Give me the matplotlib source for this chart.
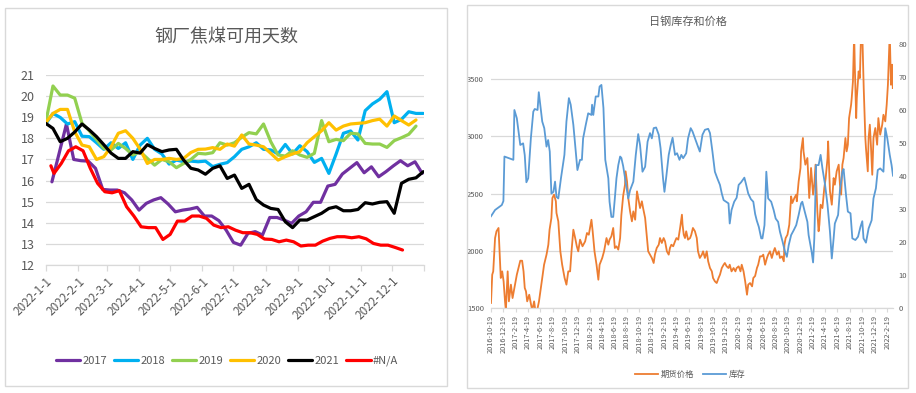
import matplotlib
matplotlib.use("Agg")
import matplotlib.pyplot as plt
import matplotlib.dates as mdates
from matplotlib.patches import Rectangle
from matplotlib.ticker import FixedLocator, FixedFormatter
import pandas as pd

plt.rcParams["font.family"] = ["Noto Sans CJK SC", "DejaVu Sans"]

TEXT = "#595959"
GRID = "#D9D9D9"
W, H = 916, 393

# ---- left chart: 钢厂焦煤可用天数 (weekly, plotted on a 2022 calendar) ----
years = ["2017", "2018", "2019", "2020", "2021", "#N/A"]
year_colors = ["#7030A0", "#00B0F0", "#92D050", "#FFC000", "#000000", "#FF0000"]

days_2017 = [15.94, 17.3, 18.68, 17.0, 16.94, 16.92, 16.58, 15.58, 15.55, 15.55, 15.42, 15.08,
             14.6, 14.92, 15.08, 15.19, 14.89, 14.52, 14.6, 14.65, 14.73, 14.32, 14.32, 14.1,
             13.65, 13.07, 12.94, 13.5, 13.58, 13.42, 14.25, 14.25, 14.13, 13.97, 14.32, 14.52,
             14.97, 14.97, 15.74, 15.82, 16.31, 16.58, 16.85, 16.37, 16.65, 16.18, 16.42, 16.69,
             16.94, 16.7, 16.89, 16.34]
days_2018 = [18.68, 19.18, 18.99, 18.68, 18.79, 18.1, 18.08, 17.79, 17.48, 17.79, 17.52, 17.79,
             17.0, 17.68, 18.0, 17.48, 17.26, 16.78, 16.97, 16.89, 16.92, 16.89, 16.92, 16.66,
             16.77, 16.85, 17.13, 17.48, 17.6, 17.79, 17.48, 17.45, 17.26, 17.71, 17.26, 17.65,
             17.37, 16.86, 17.05, 16.34, 17.26, 18.24, 18.35, 17.92, 19.31, 19.63, 19.85, 20.21,
             18.74, 18.9, 19.26, 19.18, 19.18]
days_2019 = [18.74, 20.48, 20.05, 20.05, 19.9, 18.71, 18.36, 17.95, 17.52, 17.45, 17.76, 17.52,
             17.21, 17.37, 17.05, 16.73, 17.0, 16.89, 16.61, 16.81, 17.0, 17.29, 17.26, 17.32,
             17.79, 17.68, 17.79, 18.05, 18.27, 18.21, 18.68, 17.84, 17.21, 17.16, 17.41, 17.21,
             17.1, 17.29, 18.84, 17.84, 17.95, 17.89, 18.24, 18.21, 17.76, 17.73, 17.73, 17.57,
             17.89, 18.03, 18.19, 18.58]
days_2020 = [18.74, 19.18, 19.37, 19.37, 18.31, 17.68, 17.6, 17.0, 17.13, 17.6, 18.24, 18.36,
             18.0, 17.49, 16.81, 17.0, 17.0, 17.05, 17.0, 17.05, 17.33, 17.48, 17.49, 17.56,
             17.48, 17.73, 17.63, 18.16, 17.73, 17.68, 17.6, 17.29, 16.97, 17.13, 17.26, 17.37,
             17.79, 18.08, 18.36, 18.74, 18.39, 18.58, 18.68, 18.71, 18.74, 18.84, 18.91, 18.58,
             19.06, 18.84, 18.63, 18.87]
days_2021 = [18.71, 18.47, 17.84, 18.0, 18.3, 18.68, 18.4, 18.08, 17.7, 17.3, 17.05, 17.05,
             17.37, 17.3, 17.7, 17.52, 17.37, 17.45, 17.48, 16.97, 16.58, 16.5, 16.3, 16.58,
             16.7, 16.1, 16.26, 15.63, 15.82, 15.1, 14.84, 14.68, 14.63, 14.05, 13.77, 14.13,
             14.13, 14.29, 14.45, 14.68, 14.76, 14.57, 14.57, 14.63, 14.95, 14.89, 14.97, 15.0,
             14.45, 15.87, 16.06, 16.13, 16.42]
days_na = [16.7, 16.34, 16.81, 17.41, 17.6, 17.41, 16.58, 15.87, 15.47, 15.42, 15.52, 14.76,
           14.32, 13.81, 13.77, 13.77, 13.21, 13.45, 14.08, 14.08, 14.32, 14.32, 14.21, 13.89,
           13.77, 13.81, 13.65, 13.53, 13.53, 13.45, 13.23, 13.21, 13.1, 13.18, 13.1, 12.9,
           12.94, 12.94, 13.13, 13.26, 13.34, 13.34, 13.29, 13.34, 13.24, 13.02, 12.94, 12.94,
           12.83, 12.71]
first_week = ["2022-01-07", "2022-01-01", "2022-01-01", "2022-01-01", "2022-01-01", "2022-01-09"]
na_first_day = "2022-01-06"

# ---- right chart: 日钢库存和价格 ----
price_dates = [
    "2016-10-19", "2016-10-25", "2016-10-30", "2016-11-08", "2016-11-15", "2016-11-25", "2016-11-30",
    "2016-12-06", "2016-12-13", "2016-12-20", "2016-12-27", "2016-12-31",
    "2017-01-09", "2017-01-15", "2017-01-25", "2017-02-02", "2017-02-11", "2017-02-23", "2017-03-03",
    "2017-03-12", "2017-03-21", "2017-03-28", "2017-04-03", "2017-04-09", "2017-04-15", "2017-04-25",
    "2017-05-04", "2017-05-10", "2017-05-19", "2017-05-25", "2017-06-03", "2017-06-12", "2017-06-22",
    "2017-06-28", "2017-07-07", "2017-07-19", "2017-07-28", "2017-08-03", "2017-08-12", "2017-08-17",
    "2017-08-25", "2017-09-03", "2017-09-06", "2017-09-15", "2017-09-25", "2017-10-04", "2017-10-16",
    "2017-10-25", "2017-11-03", "2017-11-12", "2017-11-19", "2017-11-28", "2017-12-07", "2017-12-15",
    "2017-12-22", "2017-12-31",
    "2018-01-12", "2018-01-25", "2018-02-03", "2018-02-12", "2018-02-25", "2018-03-03", "2018-03-12",
    "2018-03-22", "2018-03-31", "2018-04-06", "2018-04-19", "2018-04-28", "2018-05-10", "2018-05-19",
    "2018-05-25", "2018-06-03", "2018-06-12", "2018-06-20", "2018-06-28", "2018-07-07", "2018-07-16",
    "2018-07-22", "2018-07-31", "2018-08-09", "2018-08-12", "2018-08-19", "2018-08-25", "2018-09-03",
    "2018-09-12", "2018-09-19", "2018-09-28", "2018-10-07", "2018-10-13", "2018-10-22", "2018-10-31",
    "2018-11-06", "2018-11-16", "2018-11-25", "2018-12-01", "2018-12-10", "2018-12-19", "2018-12-28",
    "2019-01-03", "2019-01-12", "2019-01-22", "2019-01-28", "2019-02-06", "2019-02-15", "2019-02-22",
    "2019-03-03", "2019-03-12", "2019-03-18", "2019-03-25", "2019-04-03", "2019-04-12", "2019-04-19",
    "2019-04-28", "2019-05-07", "2019-05-16", "2019-05-19", "2019-05-25", "2019-05-31", "2019-06-06",
    "2019-06-15", "2019-06-25", "2019-07-01", "2019-07-09", "2019-07-19", "2019-07-28", "2019-08-03",
    "2019-08-12", "2019-08-22", "2019-08-28", "2019-09-06", "2019-09-15", "2019-09-22", "2019-10-01",
    "2019-10-10", "2019-10-16", "2019-10-25", "2019-11-03", "2019-11-12", "2019-11-19", "2019-11-28",
    "2019-12-07", "2019-12-13", "2019-12-22", "2019-12-31",
    "2020-01-06", "2020-01-15", "2020-01-25", "2020-02-03", "2020-02-09", "2020-02-19", "2020-02-28",
    "2020-03-05", "2020-03-14", "2020-03-22", "2020-03-31", "2020-04-06", "2020-04-15", "2020-04-25",
    "2020-05-01", "2020-05-10", "2020-05-19", "2020-05-25", "2020-06-03", "2020-06-12", "2020-06-19",
    "2020-06-28", "2020-07-07", "2020-07-13", "2020-07-22", "2020-07-31", "2020-08-09", "2020-08-15",
    "2020-08-25", "2020-09-03", "2020-09-09", "2020-09-19", "2020-09-28", "2020-10-01", "2020-10-07",
    "2020-10-16", "2020-10-25", "2020-11-03", "2020-11-09", "2020-11-19", "2020-11-28", "2020-12-01",
    "2020-12-10", "2020-12-19", "2020-12-22", "2020-12-31",
    "2021-01-03", "2021-01-12", "2021-01-22", "2021-01-25", "2021-01-31", "2021-02-09", "2021-02-19",
    "2021-02-25", "2021-03-03", "2021-03-12", "2021-03-18", "2021-03-22", "2021-03-28", "2021-04-06",
    "2021-04-15", "2021-04-22", "2021-05-01", "2021-05-04", "2021-05-13", "2021-05-22", "2021-05-31",
    "2021-06-06", "2021-06-15", "2021-06-25", "2021-07-01", "2021-07-07", "2021-07-13", "2021-07-19",
    "2021-07-28", "2021-08-03", "2021-08-09", "2021-08-15", "2021-08-25", "2021-08-28", "2021-09-03",
    "2021-09-09", "2021-09-12", "2021-09-19", "2021-09-22", "2021-10-01", "2021-10-07", "2021-10-13",
    "2021-10-19", "2021-10-26", "2021-11-03", "2021-11-06", "2021-11-15", "2021-11-19", "2021-11-25",
    "2021-12-01", "2021-12-07", "2021-12-13", "2021-12-22", "2021-12-31",
    "2022-01-06", "2022-01-15", "2022-01-25", "2022-01-31", "2022-02-09", "2022-02-16", "2022-02-22",
    "2022-02-28", "2022-03-03", "2022-03-09", "2022-03-15", "2022-03-18",
]
price_values = [
    1544, 1791, 1820, 2111, 2170, 2199, 1995, 1762, 1820, 1733, 1558, 1480,
    1820, 1558, 1704, 1587, 1675, 1791, 1849, 1913, 1913, 1820, 1675, 1646, 1558, 1616, 1529, 1480,
    1558, 1480, 1480, 1558, 1689, 1762, 1878, 1966, 2053, 2184, 2286, 2461, 2490, 2432, 2330, 2257,
    1995, 1878, 1762, 1704, 1820, 1820, 1995, 2184, 2111, 2039, 1995, 2097,
    2039, 2082, 2155, 2140, 2271, 2170, 1995, 1878, 1747, 1878, 1937, 1995, 2111, 2053, 2097, 2126,
    2199, 2024, 2039, 2010, 2111, 2310, 2480, 2577, 2694, 2606, 2461, 2344, 2257, 2344, 2271, 2519,
    2461, 2373, 2432, 2373, 2286, 2111, 1995, 1966, 1937, 1893,
    1966, 2024, 2053, 2111, 2068, 2111, 2082, 1995, 1966, 2024, 2053, 2039, 2082, 2111, 2097, 2199,
    2315, 2228, 2140, 2111, 2170, 2097, 2111, 2140, 2199, 2170, 2111, 1995, 1937, 1966, 1995, 1937,
    1995, 1908, 1849, 1820, 1762, 1733, 1718, 1762, 1791, 1849, 1878, 1893, 1864, 1849,
    1878, 1820, 1849, 1820, 1849, 1864, 1820, 1878, 1820, 1733, 1616, 1704, 1718, 1689, 1762, 1780,
    1850, 1878, 1951, 1951, 1966, 1878, 1937, 1966, 1995, 1937, 1995, 2024, 1966, 1995, 1937, 1951,
    1908, 2053, 2111, 2140, 2228, 2475, 2417, 2461, 2490, 2432, 2606, 2723, 2868, 2985,
    2868, 2752, 2810, 2694, 2461, 2723, 2490, 2577, 2752, 2344, 2170, 2228, 2402, 2373, 2548, 2635,
    2810, 2955, 2519, 2402, 2635, 2577, 2694, 2752, 2577, 2490, 2752, 2810, 2985, 2868, 2926, 3159,
    3276, 3334, 3479, 3900, 3625, 3159, 3334, 3567, 3508, 3900, 3900, 3421, 2985, 2897, 2694, 2985,
    3101, 2897, 2664, 2985, 3072, 2926,
    3159, 3014, 3101, 3188, 3130, 3276, 3450, 3741, 3900, 3450, 3625, 3421,
]

stock_dates = [
    "2016-10-19", "2016-11-08", "2016-12-11", "2016-12-19", "2016-12-24",
    "2017-02-06", "2017-02-11", "2017-02-23", "2017-03-12", "2017-03-26", "2017-04-03", "2017-04-11",
    "2017-04-20", "2017-05-03", "2017-05-15", "2017-05-22", "2017-06-05", "2017-06-11", "2017-06-28",
    "2017-07-08", "2017-07-19", "2017-07-27", "2017-08-04", "2017-08-12", "2017-08-22", "2017-08-30",
    "2017-09-06", "2017-09-15", "2017-09-28", "2017-10-15", "2017-10-25", "2017-11-06", "2017-11-15",
    "2017-11-28", "2017-12-10", "2017-12-18", "2017-12-31",
    "2018-01-09", "2018-01-15", "2018-01-28", "2018-02-09", "2018-02-25", "2018-02-28", "2018-03-06",
    "2018-03-18", "2018-03-31", "2018-04-06", "2018-04-15", "2018-04-25", "2018-05-04", "2018-05-19",
    "2018-05-25", "2018-06-03", "2018-06-12", "2018-06-20", "2018-06-28", "2018-07-07", "2018-07-16",
    "2018-07-22", "2018-07-31", "2018-08-12", "2018-08-25", "2018-09-03", "2018-09-19", "2018-10-01",
    "2018-10-13", "2018-10-22", "2018-11-03", "2018-11-16", "2018-11-28", "2018-12-10", "2018-12-19",
    "2018-12-28",
    "2019-01-09", "2019-01-22", "2019-01-31", "2019-02-12", "2019-02-19", "2019-02-28", "2019-03-12",
    "2019-03-22", "2019-03-31", "2019-04-12", "2019-04-22", "2019-05-04", "2019-05-13", "2019-05-22",
    "2019-06-06", "2019-06-15", "2019-06-28", "2019-07-07", "2019-07-19", "2019-07-31", "2019-08-12",
    "2019-08-25", "2019-09-06", "2019-09-22", "2019-10-01", "2019-10-13", "2019-10-25", "2019-11-06",
    "2019-11-19", "2019-11-28", "2019-12-07", "2019-12-19", "2019-12-31",
    "2020-01-06", "2020-01-15", "2020-01-28", "2020-02-09", "2020-02-19", "2020-03-02", "2020-03-18",
    "2020-03-25", "2020-04-06", "2020-04-19", "2020-05-01", "2020-05-10", "2020-05-18", "2020-05-28",
    "2020-06-09", "2020-06-15", "2020-06-25", "2020-07-04", "2020-07-13", "2020-07-28", "2020-08-09",
    "2020-08-19", "2020-08-31", "2020-09-09", "2020-09-22", "2020-10-04", "2020-10-13", "2020-10-22",
    "2020-11-03", "2020-11-16", "2020-11-28", "2020-12-10", "2020-12-22", "2020-12-28",
    "2021-01-09", "2021-01-22", "2021-01-28", "2021-02-12", "2021-02-19", "2021-02-25", "2021-03-06",
    "2021-03-18", "2021-03-28", "2021-04-06", "2021-04-19", "2021-05-01", "2021-05-13", "2021-05-22",
    "2021-05-31", "2021-06-06", "2021-06-22", "2021-07-01", "2021-07-13", "2021-07-19", "2021-07-31",
    "2021-08-09", "2021-08-22", "2021-08-31", "2021-09-15", "2021-09-28", "2021-10-10", "2021-10-19",
    "2021-10-25", "2021-11-06", "2021-11-19", "2021-12-04", "2021-12-13", "2021-12-25",
    "2022-01-03", "2022-01-15", "2022-01-31", "2022-02-09", "2022-02-19", "2022-03-03", "2022-03-12",
    "2022-03-19",
]
stock_values = [
    27.8, 29.7, 31.2, 32.4, 45.9,
    44.9, 60.0, 57.5, 49.4, 49.9, 46.3, 38.1, 39.3, 51.4, 59.5, 60.3, 60.0, 65.4, 56.5, 54.5, 48.9,
    50.9, 47.4, 34.7, 35.2, 38.3, 33.7, 33.2, 39.3, 46.4, 56.5, 63.6, 61.6, 55.5, 47.4, 41.8, 44.9,
    44.9, 51.4, 55.5, 59.0, 58.5, 61.6, 58.5, 64.1, 64.1, 67.1, 67.6, 60.6, 44.9, 39.3, 32.2, 27.6,
    27.6, 33.2, 39.3, 43.3, 45.9, 45.5, 43.0, 38.3, 33.2, 35.7, 38.3, 46.4, 52.7, 49.4, 41.3, 42.8,
    50.4, 53.0, 51.4, 54.5,
    54.7, 52.5, 48.4, 39.3, 35.2, 39.8, 46.4, 49.4, 51.6, 46.4, 46.9, 44.9, 46.4, 45.4, 46.9, 51.4,
    54.5, 53.5, 51.4, 49.4, 47.4, 52.5, 54.0, 54.3, 53.0, 47.4, 41.3, 39.3, 37.3, 34.7, 32.7, 32.2,
    31.7,
    25.6, 29.7, 32.2, 33.4, 37.3, 38.1, 39.5, 37.8, 34.7, 33.0, 32.2, 28.5, 26.5, 24.6, 21.1, 21.1,
    25.1, 41.3, 33.2, 32.2, 29.7, 27.1, 26.1, 23.1, 20.1, 17.0, 15.5, 19.0, 22.1, 23.6, 25.1, 28.2,
    31.7, 32.2,
    29.2, 26.1, 22.1, 17.0, 13.8, 21.1, 43.3, 43.3, 46.4, 42.3, 37.3, 31.2, 23.1, 15.0, 21.1, 25.6,
    28.2, 35.7, 41.3, 42.1, 34.2, 29.2, 28.7, 21.1, 20.6, 21.6, 24.6, 26.3, 21.1, 19.8, 24.1, 26.6,
    33.2, 36.3,
    41.8, 42.3, 41.3, 54.5, 51.4, 46.4, 43.3, 40.1,
]
price_label = "期货价格"
stock_label = "库存"


def fig_box(x0, y0, x1, y1):
    return [x0 / W, 1 - y1 / H, (x1 - x0) / W, (y1 - y0) / H]


fig = plt.figure(figsize=(W / 100, H / 100), dpi=100, facecolor="white")

for x0, y0, x1, y1 in [(5, 8, 447, 386), (467, 5, 908, 388)]:
    fig.patches.append(Rectangle((x0 / W, 1 - y1 / H), (x1 - x0) / W, (y1 - y0) / H,
                                 transform=fig.transFigure, fill=False,
                                 edgecolor=GRID, linewidth=1.0))

# ---------------- left chart ----------------
ax = fig.add_axes(fig_box(45.7, 75, 424.3, 265))
series = [days_2017, days_2018, days_2019, days_2020, days_2021, days_na]
handles = []
for name, color, start, vals in zip(years, year_colors, first_week, series):
    dates = pd.date_range(start, periods=len(vals), freq="7D")
    if name == "#N/A":
        dates = pd.DatetimeIndex([na_first_day]).append(
            pd.date_range(start, periods=len(vals) - 1, freq="7D"))
    line, = ax.plot(dates, vals, color=color, linewidth=2.3,
                    solid_joinstyle="round", solid_capstyle="round", label=name)
    handles.append(line)

ax.set_xlim(pd.Timestamp("2022-01-01"), pd.Timestamp("2023-01-01"))
ax.set_ylim(12, 21)
ax.set_yticks(range(12, 22))
ax.grid(axis="y", color=GRID, linewidth=0.9)
ax.set_axisbelow(True)
for side in ["top", "left", "right"]:
    ax.spines[side].set_visible(False)
ax.spines["bottom"].set_color(GRID)
ax.spines["bottom"].set_linewidth(0.9)
month_ticks = pd.date_range("2022-01-01", "2023-01-01", freq="MS")
month_labels = [f"{d.year}-{d.month}-{d.day}" for d in month_ticks[:-1]] + [""]
ax.xaxis.set_major_locator(FixedLocator(mdates.date2num(month_ticks)))
ax.xaxis.set_major_formatter(FixedFormatter(month_labels))
ax.tick_params(axis="x", direction="out", length=4, width=0.9, color=GRID,
               labelcolor=TEXT, labelsize=8.5, pad=3)
ax.tick_params(axis="y", length=0, labelcolor=TEXT, labelsize=9, pad=8)
for lab in ax.get_xticklabels():
    lab.set_rotation(45)
    lab.set_ha("right")
    lab.set_rotation_mode("anchor")

fig.text(226 / W, 1 - 37 / H, "钢厂焦煤可用天数", ha="center", va="center",
         fontsize=13, color=TEXT)
fig.legend(handles=handles, labels=years, loc="center",
           bbox_to_anchor=(227 / W, 1 - 361 / H), ncol=6, frameon=False,
           fontsize=8, labelcolor=TEXT, handlelength=2.2, handletextpad=0.2,
           columnspacing=0.6)

# ---------------- right chart ----------------
ax2 = fig.add_axes(fig_box(491, 44, 893, 308))
ax3 = ax2.twinx()
p_line, = ax2.plot(pd.to_datetime(price_dates), price_values, color="#ED7D31",
                   linewidth=1.3, label=price_label)
s_line, = ax3.plot(pd.to_datetime(stock_dates), stock_values, color="#5B9BD5",
                   linewidth=1.3, label=stock_label)

ax2.set_xlim(pd.Timestamp("2016-10-19"), pd.Timestamp("2022-03-19"))
ax2.set_ylim(1500, 3806)
ax2.set_yticks([1500, 2000, 2500, 3000, 3500])
ax3.set_ylim(0, 80)
ax3.set_yticks(range(0, 81, 10))
ax2.grid(axis="y", color=GRID, linewidth=0.9)
ax2.set_axisbelow(True)
for a in (ax2, ax3):
    for side in ["top", "left", "right", "bottom"]:
        a.spines[side].set_visible(False)
ax2.spines["bottom"].set_visible(True)
ax2.spines["bottom"].set_color(GRID)
ax2.spines["bottom"].set_linewidth(0.9)

label_ticks = [pd.Timestamp("2016-10-19") + pd.DateOffset(months=2 * i) for i in range(33)]
ax2.xaxis.set_major_locator(FixedLocator(mdates.date2num(label_ticks)))
ax2.xaxis.set_major_formatter(FixedFormatter([f"{d.year}-{d.month}-{d.day}" for d in label_ticks]))
ax2.tick_params(axis="x", direction="out", length=3, width=0.8, color=GRID,
                labelcolor=TEXT, labelsize=5.3, pad=2, labelrotation=90)
ax2.tick_params(axis="y", length=0, labelcolor=TEXT, labelsize=5.5, pad=5)
ax3.tick_params(axis="y", length=0, labelcolor=TEXT, labelsize=5.5, pad=4)

fig.text(688 / W, 1 - 22 / H, "日钢库存和价格", ha="center", va="center",
         fontsize=8, color=TEXT)
fig.legend(handles=[p_line, s_line], labels=[price_label, stock_label], loc="center",
           bbox_to_anchor=(690 / W, 1 - 374 / H), ncol=2, frameon=False,
           fontsize=6, labelcolor=TEXT, handlelength=2.8, handletextpad=0.3,
           columnspacing=1.0)

fig.savefig("out.png", dpi=100, facecolor="white")
